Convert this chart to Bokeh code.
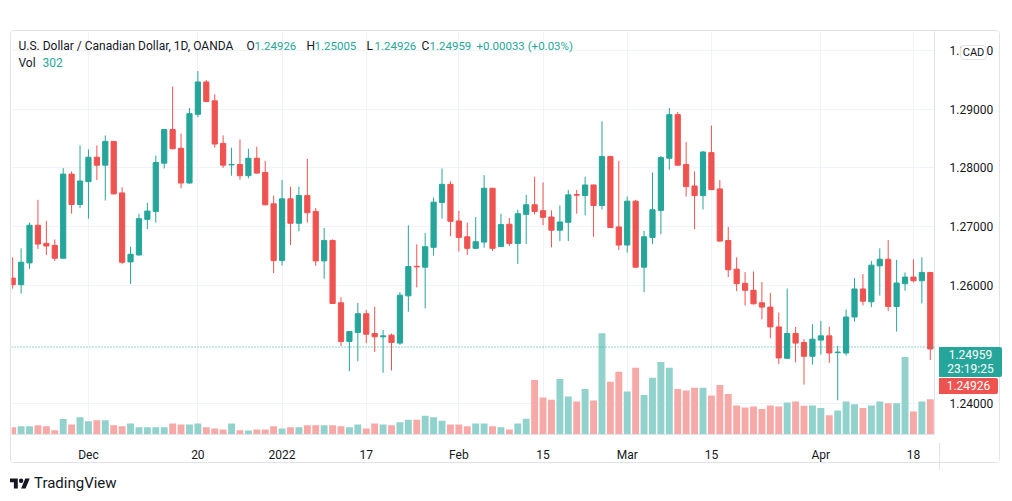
import pandas as pd
from bokeh.plotting import figure
from bokeh.models import (ColumnDataSource, Range1d, FixedTicker, Span, Label, Div,
                          PrintfTickFormatter)
from bokeh.layouts import column
from bokeh.embed import file_html
from bokeh.resources import INLINE

# ---------------- data (USD/CAD, 1D, OANDA) ----------------
dates = [d.strftime("%Y-%m-%d") for d in pd.bdate_range("2021-11-18", "2022-04-20")]

opens = [1.26130, 1.26018, 1.26388, 1.27027, 1.26719, 1.26685, 1.26467, 1.27896, 1.27380, 1.27767,
         1.28182, 1.28047, 1.28451, 1.27576, 1.26405, 1.26523, 1.27128, 1.27262, 1.28081, 1.28652,
         1.28333, 1.27744, 1.28910, 1.29460, 1.29140, 1.28417, 1.28052, 1.28058, 1.27868, 1.28165,
         1.27924, 1.27391, 1.26427, 1.27475, 1.27061, 1.27531, 1.27262, 1.26422, 1.26769, 1.25710,
         1.25054, 1.25205, 1.25525, 1.25189, 1.25133, 1.25161, 1.25026, 1.25828, 1.26330, 1.26315,
         1.26652, 1.27414, 1.27722, 1.27100, 1.26831, 1.26635, 1.26741, 1.27655, 1.26668, 1.27044,
         1.26719, 1.27212, 1.27375, 1.27274, 1.27167, 1.26943, 1.27077, 1.27548, 1.27531, 1.27711,
         1.27363, 1.28193, 1.26999, 1.26691, 1.27436, 1.26315, 1.26820, 1.27279, 1.28165, 1.28905,
         1.28058, 1.27694, 1.27531, 1.28260, 1.27644, 1.26769, 1.26282, 1.26041, 1.25923, 1.25710,
         1.25637, 1.25301, 1.24768, 1.25189, 1.25037, 1.24802, 1.25077, 1.25149, 1.24864, 1.24858,
         1.25469, 1.25945, 1.25727, 1.26338, 1.26450, 1.25648, 1.26035, 1.26147, 1.26085, 1.26226]
highs = [1.26483, 1.26635, 1.27072, 1.27459, 1.27100, 1.26786, 1.27997, 1.27941, 1.28383, 1.28316,
         1.28383, 1.28552, 1.28455, 1.27672, 1.26663, 1.27223, 1.27408, 1.28210, 1.28655, 1.29381,
         1.28585, 1.29017, 1.29645, 1.29493, 1.29252, 1.28552, 1.28344, 1.28484, 1.28327, 1.28361,
         1.28120, 1.27531, 1.27795, 1.27683, 1.27683, 1.28154, 1.27319, 1.26982, 1.26786, 1.25805,
         1.25225, 1.25710, 1.25587, 1.25643, 1.25250, 1.25189, 1.25889, 1.27027, 1.26702, 1.26898,
         1.27498, 1.27991, 1.27773, 1.27274, 1.27072, 1.27167, 1.27879, 1.27660, 1.27223, 1.27150,
         1.27290, 1.27543, 1.27851, 1.27756, 1.27279, 1.27363, 1.27627, 1.27627, 1.27851, 1.27715,
         1.28793, 1.28204, 1.28120, 1.27515, 1.27459, 1.26932, 1.27924, 1.28204, 1.29017, 1.28950,
         1.28440, 1.27941, 1.28288, 1.28720, 1.27795, 1.26999, 1.26483, 1.26231, 1.26242, 1.26063,
         1.25878, 1.25542, 1.25951, 1.25301, 1.25093, 1.25346, 1.25402, 1.25301, 1.24981, 1.25598,
         1.26130, 1.26198, 1.26422, 1.26635, 1.26775, 1.26439, 1.26226, 1.26450, 1.26483, 1.26230]
lows = [1.25951, 1.25867, 1.26287, 1.26624, 1.26523, 1.26422, 1.26460, 1.27223, 1.27319, 1.27139,
        1.27795, 1.27447, 1.27548, 1.26366, 1.26029, 1.26511, 1.26960, 1.27072, 1.27991, 1.28316,
        1.27655, 1.27733, 1.28860, 1.29125, 1.28344, 1.28002, 1.27868, 1.27801, 1.27823, 1.27907,
        1.27363, 1.26214, 1.26343, 1.26691, 1.26926, 1.27072, 1.26338, 1.26119, 1.25695, 1.24976,
        1.24550, 1.24718, 1.25026, 1.24875, 1.24522, 1.24561, 1.24998, 1.25559, 1.25973, 1.25615,
        1.26511, 1.27139, 1.26842, 1.26579, 1.26523, 1.26624, 1.26646, 1.26590, 1.26652, 1.26674,
        1.26371, 1.26708, 1.27212, 1.27027, 1.26652, 1.26758, 1.26758, 1.27223, 1.27195, 1.26831,
        1.27296, 1.26982, 1.26607, 1.26562, 1.26310, 1.25889, 1.26708, 1.26876, 1.27969, 1.28040,
        1.27515, 1.26960, 1.27296, 1.27625, 1.26752, 1.26147, 1.25906, 1.25665, 1.25682, 1.25430,
        1.25110, 1.24673, 1.24757, 1.24701, 1.24320, 1.24662, 1.24830, 1.24690, 1.24056, 1.24813,
        1.25390, 1.25665, 1.25637, 1.25833, 1.25570, 1.25222, 1.25917, 1.26057, 1.25699, 1.24740]
closes = [1.26018, 1.26399, 1.27027, 1.26708, 1.26674, 1.26467, 1.27896, 1.27380, 1.27778, 1.28182,
          1.28047, 1.28451, 1.27560, 1.26399, 1.26534, 1.27139, 1.27268, 1.28092, 1.28652, 1.28327,
          1.27744, 1.28922, 1.29460, 1.29129, 1.28406, 1.28047, 1.28060, 1.27868, 1.28165, 1.27913,
          1.27375, 1.26427, 1.27475, 1.27061, 1.27531, 1.27240, 1.26422, 1.26769, 1.25699, 1.25054,
          1.25222, 1.25525, 1.25177, 1.25133, 1.25149, 1.25037, 1.25839, 1.26326, 1.26320, 1.26663,
          1.27419, 1.27722, 1.27094, 1.26820, 1.26635, 1.26747, 1.27655, 1.26635, 1.27038, 1.26719,
          1.27223, 1.27375, 1.27262, 1.27162, 1.26943, 1.27083, 1.27543, 1.27538, 1.27711, 1.27363,
          1.28193, 1.26988, 1.26691, 1.27436, 1.26315, 1.26831, 1.27290, 1.28176, 1.28905, 1.28047,
          1.27683, 1.27531, 1.28271, 1.27632, 1.26758, 1.26270, 1.26035, 1.25923, 1.25693, 1.25637,
          1.25301, 1.24774, 1.25189, 1.25026, 1.24802, 1.25093, 1.25149, 1.24858, 1.24874, 1.25469,
          1.25945, 1.25738, 1.26349, 1.26450, 1.25648, 1.26046, 1.26147, 1.26085, 1.26226, 1.24926]
volumes = [22, 25, 25, 28, 25, 13, 47, 30, 52, 40,
           43, 43, 28, 25, 33, 22, 22, 22, 22, 33,
           30, 30, 33, 22, 18, 15, 33, 13, 12, 15,
           15, 25, 18, 22, 22, 28, 28, 28, 28, 25,
           22, 30, 18, 33, 30, 28, 37, 45, 45, 57,
           52, 42, 30, 30, 25, 33, 33, 25, 22, 15,
           33, 48, 165, 112, 105, 168, 115, 100, 138, 103,
           307, 160, 190, 130, 202, 120, 172, 220, 202, 138,
           133, 142, 142, 118, 150, 123, 88, 82, 85, 77,
           88, 85, 97, 100, 87, 88, 80, 58, 73, 100,
           92, 80, 88, 100, 95, 95, 235, 70, 100, 107]

tick_dates = ["2021-12-01", "2021-12-20", "2022-01-03", "2022-01-17", "2022-02-01",
              "2022-02-15", "2022-03-01", "2022-03-15", "2022-04-01", "2022-04-18"]
tick_labels = ["Dec", "20", "2022", "17", "Feb", "15", "Mar", "15", "Apr", "18"]
price_ticks = [1.24, 1.26, 1.27, 1.28, 1.29, 1.30]

title_text = "U.S. Dollar / Canadian Dollar, 1D, OANDA"
ohlc_keys = ["O", "H", "L", "C"]
ohlc_vals = ["1.24926", "1.25005", "1.24926", "1.24959"]
change_text = "+0.00033 (+0.03%)"
vol_text = "302"
last_price = 1.24959
countdown = "23:19:25"
prev_close = 1.24926
currency = "CAD"

# ---------------- styling ----------------
UP = "#26a69a"
DOWN = "#ef5350"
UP_V = "#92d2cc"
DOWN_V = "#f7a9a7"
TXT = "#131722"
GRID = "#f0f3fa"
BORDER = "#e0e3eb"
FONT = "Roboto"

idx = list(range(len(dates)))
up = [c >= o for o, c in zip(opens, closes)]
src = ColumnDataSource(dict(
    x=idx, open=opens, high=highs, low=lows, close=closes, vol=volumes,
    top=[max(o, c) for o, c in zip(opens, closes)],
    bottom=[min(o, c) for o, c in zip(opens, closes)],
    color=[UP if u else DOWN for u in up],
    vcolor=[UP_V if u else DOWN_V for u in up],
))

p = figure(width=990, height=433, output_backend="svg", toolbar_location=None,
           x_range=Range1d(-0.14, 109.5), y_range=Range1d(1.23474, 1.30317),
           y_axis_location="right",
           min_border_left=0, min_border_top=0, min_border_right=67, min_border_bottom=26)
p.margin = (30, 0, 0, 10)
p.styles = {"border": "1px solid " + BORDER, "border-radius": "4px"}
p.outline_line_color = None
p.background_fill_color = "white"
p.border_fill_color = "white"

p.extra_y_ranges = {"vol": Range1d(0, 1221)}

# volume
p.vbar(x="x", top="vol", bottom=0, width=0.82, fill_color="vcolor", line_color=None,
       source=src, y_range_name="vol")
# wicks
p.segment(x0="x", x1="x", y0="low", y1="high", line_color="color", line_width=1, source=src)
# bodies
p.vbar(x="x", top="top", bottom="bottom", width=0.62, fill_color="color",
       line_color="color", line_width=1, source=src)

# last price dotted line
p.add_layout(Span(location=last_price, dimension="width", line_color=UP,
                  line_dash="1 2", line_width=1))

# axes
tick_idx = [dates.index(d) for d in tick_dates]
p.xaxis.ticker = FixedTicker(ticks=tick_idx)
p.xaxis.major_label_overrides = {i: lab for i, lab in zip(tick_idx, tick_labels)}
p.yaxis.ticker = FixedTicker(ticks=price_ticks)
p.yaxis.formatter = PrintfTickFormatter(format="%.5f")
for ax in (p.xaxis[0], p.yaxis[0]):
    ax.major_tick_line_color = None
    ax.minor_tick_line_color = None
    ax.axis_line_color = BORDER
    ax.major_label_text_font = FONT
    ax.major_label_text_font_size = "12px"
    ax.major_label_text_color = TXT
p.xaxis.major_label_standoff = 7
p.yaxis.major_label_standoff = 9

p.xgrid.ticker = FixedTicker(ticks=tick_idx)
p.ygrid.ticker = FixedTicker(ticks=price_ticks)
p.xgrid.grid_line_color = GRID
p.ygrid.grid_line_color = GRID

# header legend
def lab(x, y, text, color=TXT, size="12px"):
    p.add_layout(Label(x=x, y=y, x_units="screen", y_units="screen", text=text,
                       text_font=FONT, text_font_size=size, text_color=color,
                       text_baseline="middle", text_align="left"))

lab(7, 389, title_text)
hx = [235, 295, 355, 410]
for k, v, x in zip(ohlc_keys, ohlc_vals, hx):
    lab(x, 389, k)
    lab(x + 8, 389, v, UP, "11.5px")
lab(465, 389, change_text, UP, "11.5px")
lab(7, 372, "Vol")
lab(31, 372, vol_text, UP)

# price-scale badges (last price, previous close, currency) drawn over the price axis
box = ("position:absolute;box-sizing:border-box;font-family:Roboto,sans-serif;"
       "font-size:12px;text-align:center;")
overlay_html = (
    '<div style="position:relative;width:1012px;height:501px;">'
    f'<div style="{box}left:934px;top:342px;width:63px;height:30px;background:{UP};'
    f'color:white;border-radius:0 2px 2px 0;line-height:14px;padding-top:1px;">'
    f'{last_price:.5f}<br>{countdown}</div>'
    f'<div style="{box}left:934px;top:373px;width:59px;height:16px;background:{DOWN};'
    f'color:white;border-radius:0 2px 2px 0;line-height:16px;">{prev_close:.5f}</div>'
    f'<div style="{box}left:955px;top:40px;width:27px;height:15px;background:white;'
    f'border:1px solid {BORDER};border-radius:4px;color:{TXT};font-size:11px;'
    f'line-height:13px;">{currency}</div>'
    f'<div style="position:absolute;left:934px;top:438px;width:1px;height:27px;'
    f'background:{BORDER};"></div>'
    '</div>')
overlay = Div(text=overlay_html, width=1012, height=501,
              styles={"position": "absolute", "left": "0px", "top": "0px",
                      "pointer-events": "none", "overflow": "visible"})

logo = Div(text=(
    '<div style="display:flex;align-items:center;gap:4px;font-family:Roboto,sans-serif;'
    'font-size:15px;color:#131722">'
    '<svg width="20" height="14" viewBox="0 4 36 20"><path fill="#131722" '
    'd="M14 22H7V11H0V4h14v18zM28 22h-8l7.5-18h8L28 22z"/>'
    '<circle fill="#131722" cx="20" cy="8" r="4"/></svg>TradingView</div>'),
    margin=(10, 0, 0, 10))

layout = column(p, logo, overlay)
open("out.html", "w").write(file_html(layout, INLINE))
